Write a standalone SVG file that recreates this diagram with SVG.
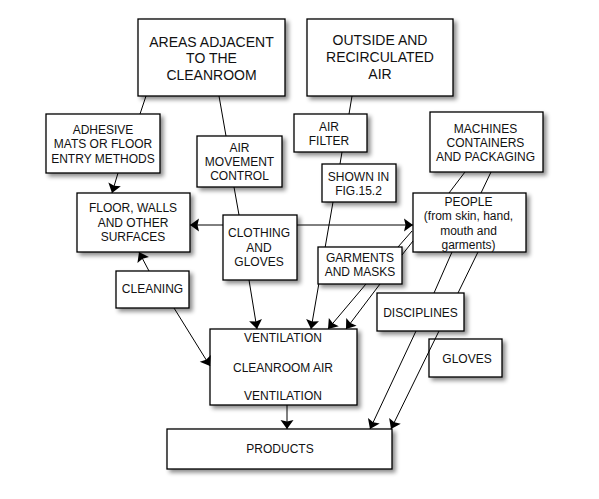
<svg xmlns="http://www.w3.org/2000/svg" width="599" height="499" viewBox="0 0 599 499">
<style>
.box{fill:#fff;stroke:#000;stroke-width:1.3;filter:url(#sh)}
text{font-family:"Liberation Sans",Arial,sans-serif;font-size:12px;fill:#111;text-anchor:middle}
.big{font-size:14px}
.c{fill:none;stroke:#000;stroke-width:1}
.a{marker-end:url(#ah)}
</style>
<defs>
<filter id="sh" x="-20%" y="-20%" width="150%" height="150%">
<feDropShadow dx="3" dy="3" stdDeviation="2" flood-color="#000" flood-opacity="0.45"/>
</filter>
<marker id="ah" viewBox="-10 -7 11 14" refX="0" refY="0" markerWidth="11" markerHeight="14" markerUnits="userSpaceOnUse" orient="auto">
<path d="M0,0 L-9,-6.5 L-7.5,0 L-9,6.5 Z" fill="#000"/>
</marker>
</defs>
<rect width="599" height="499" fill="#fff"/>
<g id="n-areas"><rect class="box" x="138" y="19" width="147" height="77"/>
<text class="big" x="211.5" y="47">AREAS ADJACENT</text><text class="big" x="211.5" y="63">TO THE</text><text class="big" x="211.5" y="80">CLEANROOM</text></g>
<g id="n-outside"><rect class="box" x="307" y="19" width="146" height="77"/>
<text class="big" x="380" y="45">OUTSIDE AND</text><text class="big" x="380" y="62">RECIRCULATED</text><text class="big" x="380" y="79">AIR</text></g>
<g id="n-adhesive"><rect class="box" x="46" y="114" width="114" height="59"/>
<text x="103" y="133.5">ADHESIVE</text><text x="103" y="148">MATS OR FLOOR</text><text x="103" y="162.5">ENTRY METHODS</text></g>
<g id="n-airmove"><rect class="box" x="197" y="136" width="85" height="51"/>
<text x="239.5" y="152">AIR</text><text x="239.5" y="166">MOVEMENT</text><text x="239.5" y="180">CONTROL</text></g>
<g id="n-floor"><rect class="box" x="77" y="193" width="113" height="59"/>
<text x="133" y="212">FLOOR, WALLS</text><text x="133" y="227">AND OTHER</text><text x="133" y="241">SURFACES</text></g>
<g id="n-clothing"><rect class="box" x="223" y="215" width="74" height="65"/>
<text x="259" y="237">CLOTHING</text><text x="259" y="252">AND</text><text x="259" y="266">GLOVES</text></g>
<g id="n-airfilter"><rect class="box" x="294" y="114" width="73" height="38"/>
<text x="329" y="131">AIR</text><text x="329" y="145">FILTER</text></g>
<g id="n-shown"><rect class="box" x="322" y="164" width="74" height="38"/>
<text x="358.5" y="181">SHOWN IN</text><text x="358.5" y="195">FIG.15.2</text></g>
<g id="n-machines"><rect class="box" x="430" y="112" width="113" height="60"/>
<text x="485.5" y="133">MACHINES</text><text x="485.5" y="147">CONTAINERS</text><text x="485.5" y="161">AND PACKAGING</text></g>
<g id="n-people"><rect class="box" x="413" y="193" width="113" height="59"/>
<text x="468.5" y="206">PEOPLE</text><text x="468.5" y="220">(from skin, hand,</text><text x="468.5" y="235">mouth and</text><text x="468.5" y="249">garments)</text></g>
<g id="n-garments"><rect class="box" x="318" y="247" width="84" height="37"/>
<text x="360" y="262">GARMENTS</text><text x="360" y="276">AND MASKS</text></g>
<g id="n-cleaning"><rect class="box" x="116" y="271" width="73" height="37"/>
<text x="152.5" y="293">CLEANING</text></g>
<g id="n-vent"><rect class="box" x="210" y="329" width="147" height="76"/>
<text x="283" y="342">VENTILATION</text><text x="283" y="372">CLEANROOM AIR</text><text x="283" y="400">VENTILATION</text></g>
<g id="n-disciplines"><rect class="box" x="377" y="293" width="87" height="38"/>
<text x="420.5" y="317">DISCIPLINES</text></g>
<g id="n-gloves"><rect class="box" x="429" y="339" width="73" height="38"/>
<text x="467" y="363">GLOVES</text></g>
<g id="n-products"><rect class="box" x="167" y="429" width="225" height="40"/>
<text x="280" y="453">PRODUCTS</text></g>
<g id="connectors">
<path class="c" d="M146,96 L140,114"/>
<path class="c" d="M219,96 L226,136"/>
<path class="c" d="M234,187 L239,215"/>
<path class="c a" d="M118,173 L112,193"/>
<path class="c a" d="M223,225 L190,225"/>
<path class="c a" d="M297,225 L413,225"/>
<path class="c a" d="M249,280 L257,329"/>
<path class="c a" d="M149,271 L139,252"/>
<path class="c a" d="M174,308 L210,366"/>
<path class="c a" d="M287,405 L287,429"/>
<path class="c" d="M352,96 L349,114"/>
<path class="c" d="M342,152 L340,164"/>
<path class="c a" d="M333,202 L325.2,247 M318.8,284 L311,329"/>
<path class="c a" d="M412,231 L398,247 M366,284 L328,329"/>
<path class="c a" d="M413,241 L402,255 M380,284 L346,329"/>
<path class="c" d="M465,172 L449,193"/>
<path class="c" d="M491,172 L481,193"/>
<path class="c" d="M452,252 L434,293"/>
<path class="c" d="M478,252 L458,293"/>
<path class="c a" d="M416,331 L370,429"/>
<path class="c a" d="M439,331 L391,429"/>
</g>
</svg>
